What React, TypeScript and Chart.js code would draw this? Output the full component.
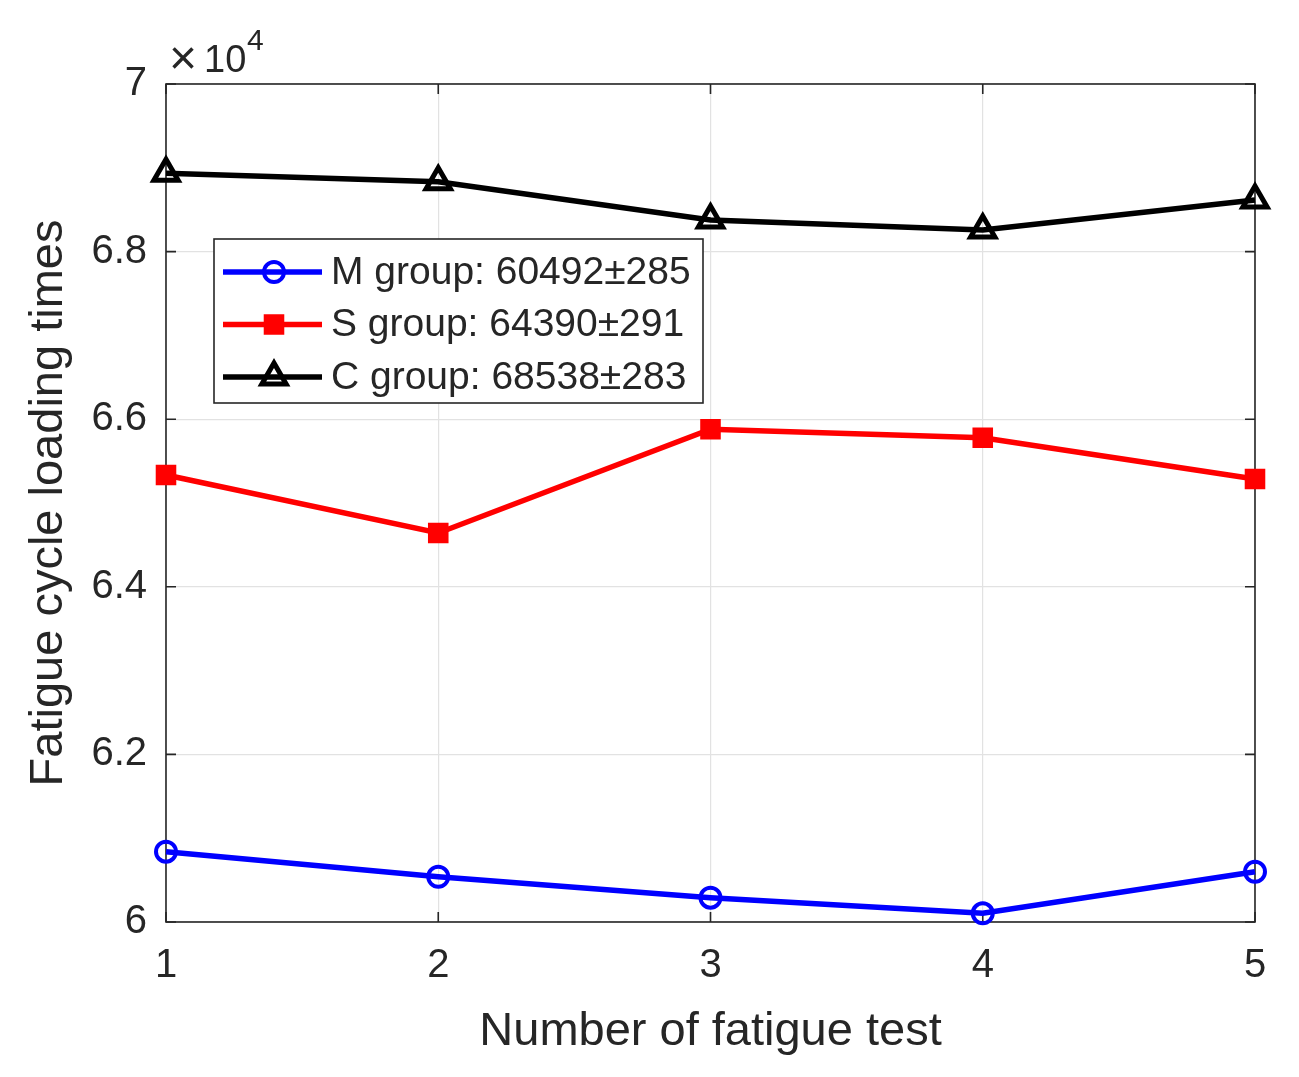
import { useRef, useEffect } from 'react';
import { Chart, registerables } from 'chart.js';

Chart.register(...registerables);

// numero de ensayo (eje x)
const testNumbers = [1, 2, 3, 4, 5];

// ciclos de carga
const mGroup = [60839, 60540, 60290, 60104, 60600];
const sGroup = [65334, 64642, 65880, 65779, 65286];
const cGroup = [68934, 68834, 68377, 68258, 68616];

const legendLabels = ['M group: 60492±285', 'S group: 64390±291', 'C group: 68538±283'];
const yTicks = [60000, 62000, 64000, 66000, 68000, 70000];

const FONT = "'Liberation Sans', Arial, Helvetica, sans-serif";
const AXIS_COLOR = '#262626';

const toPoints = (values: number[]) => values.map((y, i) => ({ x: testNumbers[i], y }));

function drawMarker(ctx: CanvasRenderingContext2D, style: string, x: number, y: number, r: number) {
  ctx.beginPath();
  if (style === 'circle') {
    ctx.arc(x, y, r, 0, Math.PI * 2);
  } else if (style === 'rect') {
    const s = r * Math.SQRT1_2;
    ctx.rect(x - s, y - s, s * 2, s * 2);
  } else {
    ctx.moveTo(x, y - r);
    ctx.lineTo(x + r * Math.sin((2 * Math.PI) / 3), y + r / 2);
    ctx.lineTo(x - r * Math.sin((2 * Math.PI) / 3), y + r / 2);
    ctx.closePath();
  }
}

// marco, marcas interiores, exponente y leyenda estilo MATLAB
const matlabPlugin = {
  id: 'matlabBox',
  beforeDatasetsDraw(chart: any) {
    const { ctx, chartArea, scales } = chart;
    const { left, right, top, bottom } = chartArea;
    ctx.save();
    ctx.strokeStyle = AXIS_COLOR;
    ctx.lineWidth = 1.6;
    ctx.strokeRect(left, top, right - left, bottom - top);

    // marcas hacia dentro
    ctx.beginPath();
    yTicks.forEach((v) => {
      const py = scales.y.getPixelForValue(v);
      ctx.moveTo(left, py); ctx.lineTo(left + 10, py);
      ctx.moveTo(right, py); ctx.lineTo(right - 10, py);
    });
    testNumbers.forEach((v) => {
      const px = scales.x.getPixelForValue(v);
      ctx.moveTo(px, bottom); ctx.lineTo(px, bottom - 10);
      ctx.moveTo(px, top); ctx.lineTo(px, top + 10);
    });
    ctx.stroke();

    // x10^4
    ctx.fillStyle = AXIS_COLOR;
    ctx.textBaseline = 'alphabetic';
    ctx.textAlign = 'left';
    ctx.font = `48px ${FONT}`;
    ctx.fillText('×', left + 3, top - 10);
    ctx.font = `38px ${FONT}`;
    ctx.fillText('10', left + 38, top - 12);
    ctx.font = `30px ${FONT}`;
    ctx.fillText('4', left + 81, top - 34);
    ctx.restore();
  },
  afterDatasetsDraw(chart: any) {
    const { ctx, chartArea } = chart;
    const { left, top } = chartArea;
    ctx.save();
    // leyenda
    const bx = left + 48;
    const by = top + 155;
    const bw = 489;
    const bh = 164;
    ctx.fillStyle = '#ffffff';
    ctx.fillRect(bx, by, bw, bh);
    ctx.strokeStyle = AXIS_COLOR;
    ctx.lineWidth = 1.6;
    ctx.strokeRect(bx, by, bw, bh);

    chart.data.datasets.forEach((ds: any, i: number) => {
      const ry = by + 33 + i * 52.5;
      ctx.strokeStyle = ds.borderColor;
      ctx.lineWidth = ds.borderWidth;
      ctx.beginPath();
      ctx.moveTo(bx + 9, ry);
      ctx.lineTo(bx + 108, ry);
      ctx.stroke();
      ctx.lineWidth = ds.pointBorderWidth;
      drawMarker(ctx, ds.pointStyle, bx + 60, ry, ds.pointRadius);
      if (ds.pointBackgroundColor !== 'transparent') {
        ctx.fillStyle = ds.pointBackgroundColor;
        ctx.fill();
      }
      ctx.stroke();
      ctx.fillStyle = AXIS_COLOR;
      ctx.font = `39px ${FONT}`;
      ctx.textBaseline = 'middle';
      ctx.fillText(legendLabels[i], bx + 117, ry + 1);
    });
    ctx.restore();
  },
};

function FatigueChart() {
  const canvasRef = useRef<HTMLCanvasElement>(null);

  useEffect(() => {
    const canvas = canvasRef.current;
    if (!canvas) return;
    const context = canvas.getContext('2d');
    if (!context) return;

    const chart = new Chart(context, {
      type: 'line',
      data: {
        datasets: [
          {
            label: legendLabels[0],
            data: toPoints(mGroup),
            borderColor: '#0000ff',
            borderWidth: 5.5,
            pointStyle: 'circle',
            pointRadius: 10,
            pointBorderWidth: 4,
            pointBackgroundColor: 'transparent',
            pointBorderColor: '#0000ff',
            clip: false,
          },
          {
            label: legendLabels[1],
            data: toPoints(sGroup),
            borderColor: '#ff0000',
            borderWidth: 5.5,
            pointStyle: 'rect',
            pointRadius: 11,
            pointBorderWidth: 5,
            pointBackgroundColor: '#ff0000',
            pointBorderColor: '#ff0000',
            clip: false,
          },
          {
            label: legendLabels[2],
            data: toPoints(cGroup),
            borderColor: '#000000',
            borderWidth: 5.5,
            pointStyle: 'triangle',
            pointRadius: 14,
            pointBorderWidth: 5,
            pointBackgroundColor: 'transparent',
            pointBorderColor: '#000000',
            clip: false,
          },
        ] as any,
      },
      options: {
        animation: false,
        responsive: false,
        layout: { padding: { top: 84, right: 44, left: 0, bottom: 0 } },
        scales: {
          x: {
            type: 'linear',
            min: 1,
            max: 5,
            afterFit: (scale: any) => { scale.height = 155; },
            ticks: {
              stepSize: 1,
              padding: 20,
              color: AXIS_COLOR,
              font: { family: FONT, size: 40 },
            },
            grid: { color: '#e2e2e2', lineWidth: 1.2, drawTicks: false },
            border: { display: false },
            title: {
              display: true,
              text: 'Number of fatigue test',
              color: AXIS_COLOR,
              font: { family: FONT, size: 47 },
              padding: { top: 0, bottom: 17 },
            },
          },
          y: {
            min: 60000,
            max: 70000,
            afterFit: (scale: any) => { scale.width = 166; },
            afterBuildTicks: (scale: any) => { scale.ticks = yTicks.map((v) => ({ value: v })); },
            ticks: {
              padding: 19,
              color: AXIS_COLOR,
              font: { family: FONT, size: 40 },
              callback: (v: any) => String(+(Number(v) / 10000).toFixed(1)),
            },
            grid: { color: '#e2e2e2', lineWidth: 1.2, drawTicks: false },
            border: { display: false },
            title: {
              display: true,
              text: 'Fatigue cycle loading times',
              color: AXIS_COLOR,
              font: { family: FONT, size: 47 },
              padding: { top: 21, bottom: 0 },
            },
          },
        },
        plugins: {
          legend: { display: false },
          tooltip: { enabled: false },
        },
      },
      plugins: [matlabPlugin],
    });

    return () => {
      chart.destroy();
    };
  }, []);

  return <canvas ref={canvasRef} width={1299} height={1077} />;
}

export default function App() {
  return (
    <div style={{ position: 'absolute', left: 0, top: 0, width: 1299, height: 1077, background: '#fff' }}>
      <FatigueChart />
    </div>
  );
}
